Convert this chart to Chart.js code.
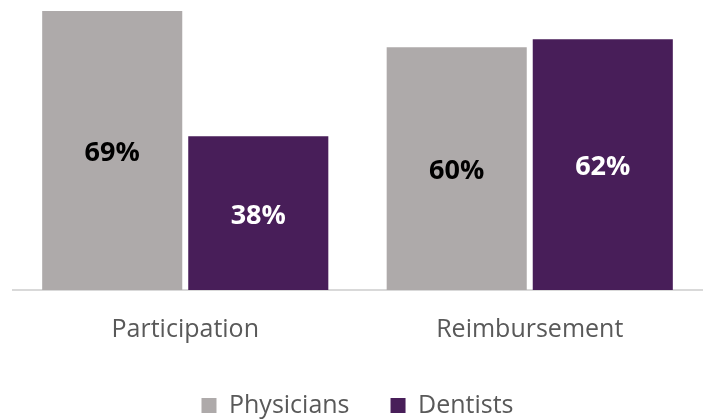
<!DOCTYPE html>
<html>
<head>
<meta charset="utf-8">
<script src="https://cdn.jsdelivr.net/npm/chart.js@4.4.0/dist/chart.umd.min.js"></script>
<style>
  body { margin: 0; background: #fff; }
  #wrap { width: 705px; height: 420px; }
</style>
</head>
<body>
<div id="wrap"><canvas id="chart"></canvas></div>
<script>
const categories = ["Participation", "Reimbursement"];
const physicians = [69, 60];
const dentists = [38, 62];
const seriesNames = ["Physicians", "Dentists"];

// draws the percent in the middle of each bar
const barLabels = {
  id: "barLabels",
  afterDatasetsDraw(chart) {
    const ctx = chart.ctx;
    ctx.save();
    ctx.font = "bold 27px 'Open Sans'";
    ctx.textAlign = "center";
    ctx.textBaseline = "middle";
    chart.data.datasets.forEach((ds, i) => {
      chart.getDatasetMeta(i).data.forEach((bar, j) => {
        ctx.fillStyle = i === 0 ? "#000000" : "#ffffff";
        const mid = (bar.y + bar.base) / 2;
        ctx.fillText(ds.data[j] + "%", bar.x, mid + 3);
      });
    });
    ctx.restore();
  },
};

new Chart(document.getElementById("chart").getContext("2d"), {
  type: "bar",
  data: {
    labels: categories,
    datasets: [
      {
        label: seriesNames[0],
        data: physicians,
        backgroundColor: "#AEAAAA",
        barPercentage: 0.959,
        categoryPercentage: 0.848,
      },
      {
        label: seriesNames[1],
        data: dentists,
        backgroundColor: "#481E59",
        barPercentage: 0.959,
        categoryPercentage: 0.848,
      },
    ],
  },
  options: {
    responsive: true,
    maintainAspectRatio: false,
    animation: false,
    layout: { padding: { left: 13, right: 3, top: 0, bottom: 0 } },
    plugins: {
      legend: {
        position: "bottom",
        maxHeight: 68,
        labels: {
          boxWidth: 15,
          boxHeight: 15,
          padding: 41,
          font: { family: "'Open Sans'", size: 25 },
          color: "#595959",
        },
      },
      tooltip: { enabled: false },
    },
    scales: {
      x: {
        grid: { display: false },
        border: { color: "#D9D9D9", width: 2 },
        ticks: {
          padding: 17,
          font: { family: "'Open Sans'", size: 25 },
          color: "#595959",
        },
        afterFit(scale) {
          scale.height -= 10;
        },
      },
      y: {
        display: false,
        min: 0,
        max: 71.7,
      },
    },
  },
  plugins: [barLabels],
});
</script>
</body>
</html>
